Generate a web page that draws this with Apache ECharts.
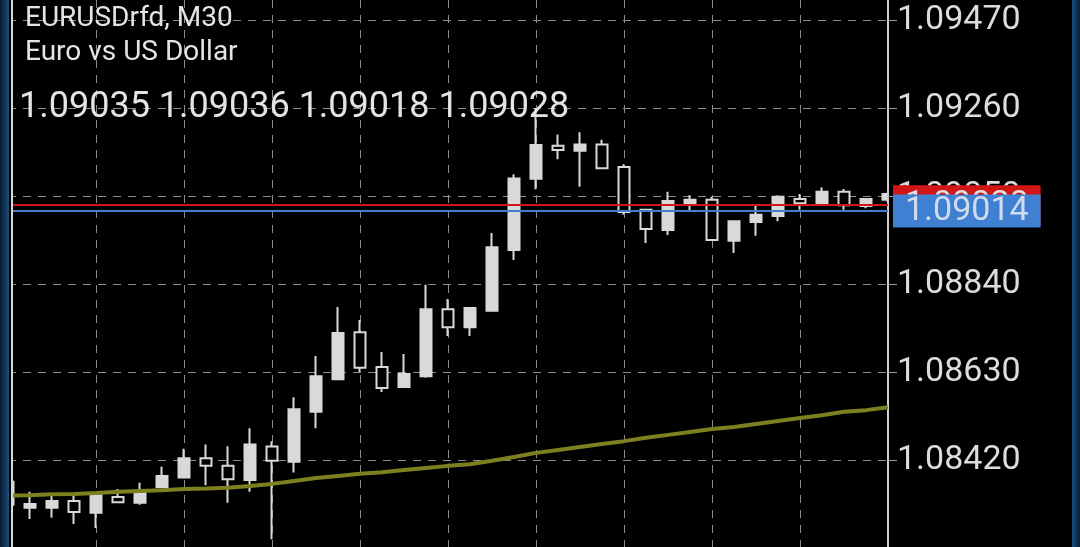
<!DOCTYPE html>
<html>
<head>
<meta charset="utf-8">
<script src="https://cdn.jsdelivr.net/npm/echarts@6/dist/echarts.min.js"></script>
<style>
html,body{margin:0;padding:0;background:#000;}
#chart{width:1080px;height:547px;}
</style>
</head>
<body>
<div id="chart"></div>
<script>
// M30 bars, oldest first (first bar is mostly hidden by the left frame)
const categories = ['b0','b1','b2','b3','b4','b5','b6','b7','b8','b9','b10','b11','b12','b13','b14','b15','b16','b17','b18','b19','b20','b21','b22','b23','b24','b25','b26','b27','b28','b29','b30','b31','b32','b33','b34','b35','b36','b37','b38','b39','b40'];
const opens  = [1.08368,1.08306,1.08306,1.08322,1.08294,1.08332,1.08318,1.08355,1.08378,1.08424,1.08406,1.08372,1.08452,1.08416,1.08535,1.08613,1.08725,1.08642,1.08594,1.08620,1.08780,1.08737,1.08776,1.08921,1.09091,1.09170,1.09158,1.09173,1.09119,1.09017,1.08969,1.09033,1.09041,1.08943,1.08988,1.09002,1.09043,1.09033,1.09060,1.09026,1.09041];
const closes = [1.08313,1.08315,1.08322,1.08296,1.08336,1.08319,1.08341,1.08382,1.08424,1.08406,1.08374,1.08457,1.08418,1.08541,1.08620,1.08723,1.08640,1.08592,1.08625,1.08780,1.08737,1.08783,1.08928,1.09092,1.09172,1.09160,1.09173,1.09116,1.09012,1.08971,1.09038,1.09041,1.08945,1.08990,1.09005,1.09048,1.09033,1.09060,1.09028,1.09043,1.09055];
const lows   = [1.08308,1.08279,1.08282,1.08267,1.08258,1.08318,1.08313,1.08354,1.08377,1.08360,1.08318,1.08344,1.08231,1.08390,1.08496,1.08612,1.08630,1.08582,1.08593,1.08616,1.08716,1.08716,1.08775,1.08897,1.09066,1.09138,1.09072,1.09116,1.09005,1.08938,1.08957,1.09014,1.08943,1.08914,1.08955,1.08990,1.09017,1.09033,1.09017,1.09021,1.09035];
const highs  = [1.08377,1.08344,1.08335,1.08335,1.08338,1.08351,1.08366,1.08404,1.08447,1.08457,1.08453,1.08496,1.08465,1.08570,1.08668,1.08785,1.08754,1.08678,1.08673,1.08838,1.08804,1.08785,1.08962,1.09102,1.09260,1.09197,1.09202,1.09184,1.09126,1.09019,1.09060,1.09052,1.09048,1.08990,1.09026,1.09052,1.09055,1.09071,1.09067,1.09043,1.09058];
const maValues = [1.08335,1.08336,1.08338,1.08339,1.08341,1.08344,1.08346,1.08348,1.08351,1.08352,1.08354,1.08358,1.08363,1.08370,1.08377,1.08382,1.08387,1.08391,1.08396,1.08401,1.08406,1.08410,1.08418,1.08427,1.08437,1.08444,1.08451,1.08458,1.08465,1.08473,1.08480,1.08487,1.08494,1.08499,1.08506,1.08513,1.08520,1.08527,1.08535,1.08539,1.08546];
const priceTicks = [1.08420,1.08630,1.08840,1.09050,1.09260,1.09470];
const askPrice = 1.09028;
const bidPrice = 1.09014;
const symbolTitle = 'EURUSDrfd, M30';
const symbolName = 'Euro vs US Dollar';
const ohlcText = '1.09035 1.09036 1.09018 1.09028';

const candleData = opens.map((o, i) => [o, closes[i], lows[i], highs[i]]);

const chart = echarts.init(document.getElementById('chart'), null, {renderer: 'canvas'});
const FONT = 'Roboto';
const gridDash = {color: '#8c8c8c', width: 1, type: [8, 7]};
const Y_MIN = 1.0821239, Y_MAX = 1.0951773;

chart.setOption({
  backgroundColor: '#000000',
  animation: false,
  title: [
    {
      text: symbolTitle, subtext: symbolName,
      left: 25, top: 5, padding: 0, itemGap: 6,
      textStyle: {color: '#e4e4e4', fontSize: 28, fontWeight: 'normal', fontFamily: FONT},
      subtextStyle: {color: '#e4e4e4', fontSize: 28, fontWeight: 'normal', fontFamily: FONT}
    },
    {
      text: ohlcText, left: 19, top: 90, padding: 0,
      textStyle: {color: '#e4e4e4', fontSize: 36, fontWeight: 'normal', fontFamily: FONT}
    }
  ],
  grid: {left: 8, right: 192, top: 0, bottom: 0, containLabel: false},
  xAxis: {
    type: 'category', data: categories, boundaryGap: false, z: 0,
    axisLine: {show: false}, axisTick: {show: false}, axisLabel: {show: false},
    splitLine: {show: true, interval: (i) => i % 4 === 0, lineStyle: gridDash}
  },
  yAxis: [
    {
      type: 'value', position: 'right', scale: true, z: 0,
      min: Y_MIN, max: Y_MAX,
      axisLine: {show: false},
      axisTick: {show: false, customValues: priceTicks},
      axisLabel: {show: false, customValues: priceTicks},
      splitLine: {show: true, lineStyle: gridDash}
    },
    {
      type: 'value', position: 'right', scale: true, z: 3,
      min: Y_MIN, max: Y_MAX,
      axisLine: {show: true, lineStyle: {color: '#cfcfcf', width: 2}},
      axisTick: {show: true, length: 9, customValues: priceTicks, lineStyle: {color: '#9a9a9a', width: 1}},
      axisLabel: {
        show: true, customValues: priceTicks, margin: 9, padding: [8, 0, 0, 0],
        color: '#dcdcdc', fontSize: 34, fontFamily: FONT,
        formatter: (v) => v.toFixed(5)
      },
      splitLine: {show: false}
    }
  ],
  series: [
    {
      type: 'candlestick',
      data: candleData,
      yAxisIndex: 0,
      barWidth: 12,
      z: 1,
      itemStyle: {
        color: '#d9d9d9', color0: '#000000',
        borderColor: '#d9d9d9', borderColor0: '#d9d9d9', borderColorDoji: '#d9d9d9',
        borderWidth: 2
      }
    },
    {
      type: 'line', data: maValues, symbol: 'none', z: 4, yAxisIndex: 0,
      lineStyle: {color: '#7d801e', width: 4},
      clip: true,
      markLine: {
        symbol: 'none', silent: true, animation: false, precision: 5,
        data: [
          {
            yAxis: askPrice,
            lineStyle: {color: '#d01616', width: 2, type: 'solid'},
            label: {
              position: 'end', distance: 5, formatter: (p) => Number(p.value).toFixed(5),
              color: '#e0e0e0', backgroundColor: '#d01616',
              fontSize: 34, fontFamily: FONT, lineHeight: 40, padding: [0, 12]
            }
          },
          {
            yAxis: bidPrice,
            lineStyle: {color: '#3f7fca', width: 2, type: 'solid'},
            label: {
              position: 'end', distance: 5, formatter: (p) => Number(p.value).toFixed(5),
              color: '#cfdcec', backgroundColor: '#3f80d2',
              fontSize: 34, fontFamily: FONT, lineHeight: 31, padding: [2, 12, 0, 12]
            }
          }
        ]
      }
    }
  ],
  graphic: [
    {
      type: 'rect', left: 889, top: 0, z: 2,
      shape: {width: 183, height: 547},
      style: {fill: '#000'}
    },
    {
      type: 'rect', left: 0, top: 0, z: 100,
      shape: {width: 11, height: 547},
      style: {fill: '#000'}
    },
    {
      type: 'rect', left: 0, top: 0, z: 101,
      shape: {width: 9, height: 547},
      style: {fill: new echarts.graphic.LinearGradient(0, 0, 1, 0, [
        {offset: 0, color: '#081a2e'}, {offset: 1, color: '#1d4f7c'}
      ])}
    },
    {
      type: 'rect', left: 11, top: 0, z: 101,
      shape: {width: 2, height: 547},
      style: {fill: '#d8d8d8'}
    },
    {
      type: 'rect', left: 1072, top: 0, z: 101,
      shape: {width: 8, height: 547},
      style: {fill: new echarts.graphic.LinearGradient(0, 0, 1, 0, [
        {offset: 0, color: '#1d4f7c'}, {offset: 1, color: '#0a2036'}
      ])}
    }
  ]
});
</script>
</body>
</html>
